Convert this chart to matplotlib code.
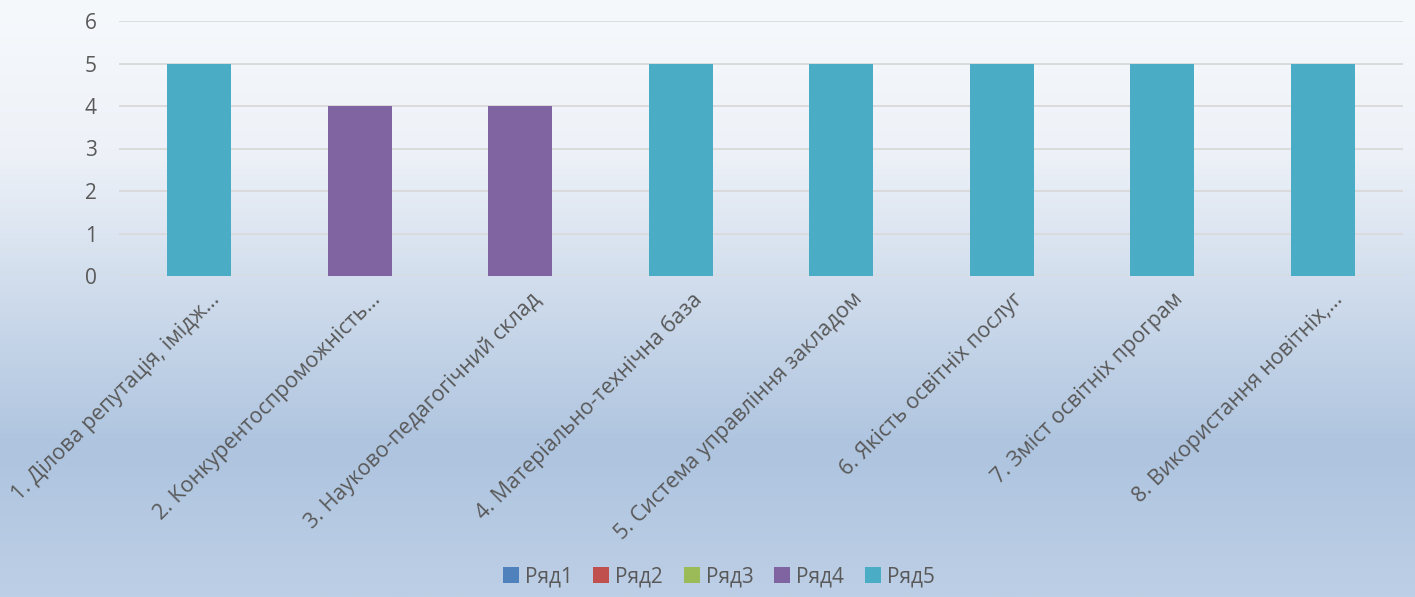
import numpy as np
import matplotlib.pyplot as plt
from matplotlib.colors import LinearSegmentedColormap
from matplotlib import transforms

plt.rcParams['font.family'] = ['Open Sans', 'DejaVu Sans']

# Дані діаграми
categories = ['1. Ділова репутація, імідж…', '2. Конкурентоспроможність…',
              '3. Науково-педагогічний склад', '4. Матеріально-технічна база',
              '5. Система управління закладом', '6. Якість освітніх послуг',
              '7. Зміст освітніх програм', '8. Використання новітніх,…']
series_names = ['Ряд1', 'Ряд2', 'Ряд3', 'Ряд4', 'Ряд5']
row1 = [0, 0, 0, 0, 0, 0, 0, 0]
row2 = [0, 0, 0, 0, 0, 0, 0, 0]
row3 = [0, 0, 0, 0, 0, 0, 0, 0]
row4 = [0, 4, 4, 0, 0, 0, 0, 0]
row5 = [5, 0, 0, 5, 5, 5, 5, 5]
colors = ['#4f81bd', '#c0504d', '#9bbb59', '#8064a2', '#4bacc6']

fig = plt.figure(figsize=(14.15, 5.97), dpi=100)

# градієнтний фон
bg = fig.add_axes([0, 0, 1, 1], zorder=-1)
cmap = LinearSegmentedColormap.from_list('bg', [(0, '#f6f9fc'), (0.25, '#eef2f8'),
                                                (0.75, '#aec4df'), (1, '#bdcfe6')])
bg.imshow(np.linspace(0, 1, 256).reshape(-1, 1), aspect='auto', cmap=cmap,
          extent=[0, 1, 0, 1], origin='upper')
bg.axis('off')

ax = fig.add_axes([119 / 1415, 1 - 276 / 597, 1284 / 1415, 255 / 597])
ax.patch.set_alpha(0)

x = np.arange(len(categories))
bottom = np.zeros(len(categories))
for name, vals, c in zip(series_names, [row1, row2, row3, row4, row5], colors):
    ax.bar(x, vals, bottom=bottom, width=0.4, color=c, label=name, zorder=3)
    bottom += np.array(vals)

ax.set_xlim(-0.5, len(categories) - 0.5)
ax.set_ylim(0, 6)
ax.set_yticks(range(7))
ax.grid(axis='y', color='#d9d9d9', linewidth=1.3, zorder=0)
for s in ax.spines.values():
    s.set_visible(False)
ax.tick_params(length=0, labelcolor='#595959', labelsize=15)
ax.tick_params(axis='y', pad=16)

ax.set_xticks(x)
ax.set_xticklabels(categories, rotation=45, ha='right', rotation_mode='anchor',
                   fontsize=15.5)
offset = transforms.ScaledTranslation(10 / 100, -8 / 100, fig.dpi_scale_trans)
for lbl in ax.get_xticklabels():
    lbl.set_transform(lbl.get_transform() + offset)

fig.legend(loc='lower center', bbox_to_anchor=(0.508, -0.015), ncol=5, frameon=False,
           fontsize=15, handlelength=0.75, handleheight=0.75, handletextpad=0.3,
           columnspacing=1.0, labelcolor='#595959')

fig.savefig('out.png', dpi=100)
